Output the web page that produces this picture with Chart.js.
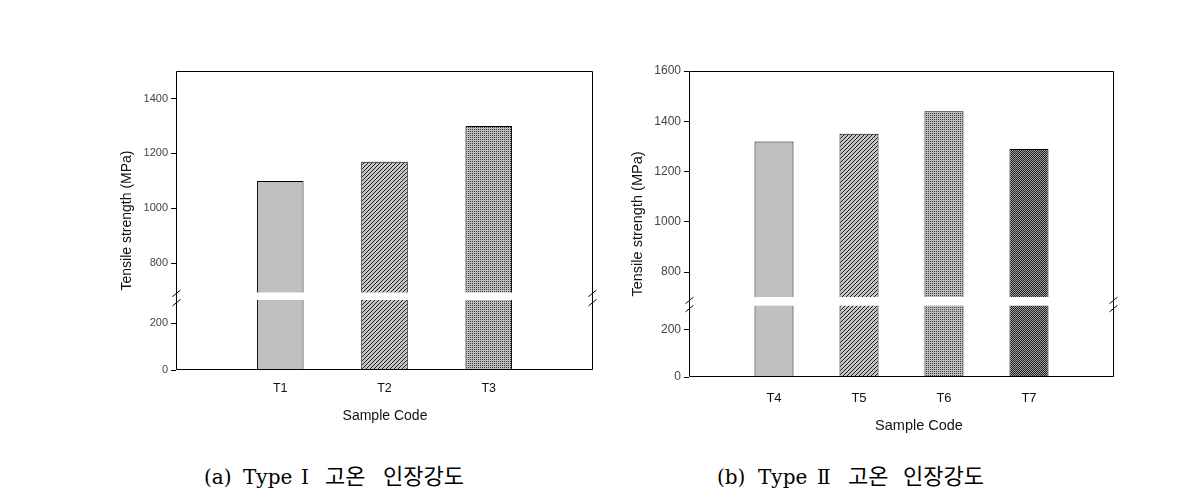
<!DOCTYPE html>
<html>
<head>
<meta charset="utf-8">
<script src="https://cdn.jsdelivr.net/npm/chart.js@4.4.1/dist/chart.umd.min.js"></script>
<style>
body { margin: 0; background: #fff; width: 1179px; height: 504px; position: relative; overflow: hidden; }
canvas { position: absolute; }
.cap { position: absolute; top: 458px; font-family: 'DejaVu Serif', 'Liberation Serif', serif; font-size: 20px; color: #000; white-space: nowrap; }
.cap span { display: inline-block; }
.ko { font-family: 'Noto Sans CJK KR', sans-serif; font-size: 22px; }
</style>
</head>
<body>
<canvas id="chartA" width="510" height="385" style="left:100px;top:55px"></canvas>
<canvas id="chartB" width="520" height="390" style="left:620px;top:55px"></canvas>
<div class="cap" style="left:204px"><span style="width:39px">(a)</span><span style="width:58px">Type</span><span style="width:24px">Ⅰ</span><span class="ko" style="width:58px">고온</span><span class="ko">인장강도</span></div>
<div class="cap" style="left:717px"><span style="width:41px">(b)</span><span style="width:59px">Type</span><span style="width:31px">Ⅱ</span><span class="ko" style="width:55px">고온</span><span class="ko">인장강도</span></div>
<script>
// (a) Type I
var samplesA = ['T1', 'T2', 'T3'];
var strengthA = [1100, 1170, 1300];
var upperTicksA = [800, 1000, 1200, 1400];
var lowerTicksA = [0, 200];

// (b) Type II
var samplesB = ['T4', 'T5', 'T6', 'T7'];
var strengthB = [1320, 1350, 1440, 1290];
var upperTicksB = [800, 1000, 1200, 1400, 1600];
var lowerTicksB = [0, 200];

var yTitle = 'Tensile strength (MPa)';
var xTitle = 'Sample Code';

// little fill patterns like the sigmaplot bars
function makePattern(w, h, bg, fg, pixels) {
    var c = document.createElement('canvas');
    c.width = w; c.height = h;
    var g = c.getContext('2d');
    g.fillStyle = bg;
    g.fillRect(0, 0, w, h);
    g.fillStyle = fg;
    pixels.forEach(function(p) { g.fillRect(p[0], p[1], 1, 1); });
    return g.createPattern(c, 'repeat');
}
var solid = '#c0c0c0';
var hatch = makePattern(4, 4, '#c6c6c6', '#1a1a1a', [[0, 3], [1, 2], [2, 1], [3, 0]]);
var dots = makePattern(2, 2, '#bcbcbc', '#404040', [[0, 0]]);
var dense = makePattern(2, 2, '#a4a4a4', '#1e1e1e', [[0, 0], [1, 1]]);

// draws frame, the white break band, the // marks and the axis titles
var brokenAxis = {
    id: 'brokenAxis',
    afterDatasetsDraw: function(chart, args, o) {
        var ctx = chart.ctx, a = chart.chartArea;
        var yb = chart.scales.yUpper.bottom;
        var l = Math.round(a.left) + 0.5, r = Math.round(a.right) - 0.5;
        var t = Math.round(a.top) + 0.5, b = Math.round(a.bottom) - 0.5;
        ctx.save();
        ctx.fillStyle = '#fff';
        ctx.fillRect(l + 1, yb + o.gapTop, r - l - 2, o.gapBottom - o.gapTop);
        ctx.strokeStyle = '#000';
        ctx.lineWidth = 1;
        ctx.beginPath();
        ctx.moveTo(l, t); ctx.lineTo(r, t); ctx.lineTo(r, b); ctx.lineTo(l, b); ctx.closePath();
        ctx.stroke();
        [l, r].forEach(function(x) {
            [-o.slashSep / 2, o.slashSep / 2].forEach(function(d) {
                var yc = yb + o.slashMid + d;
                ctx.beginPath();
                ctx.moveTo(x - 4, yc + 3.3);
                ctx.lineTo(x + 4, yc - 3.3);
                ctx.stroke();
            });
        });
        ctx.fillStyle = '#111';
        ctx.font = o.titleSize + 'px "Liberation Sans", Arial, sans-serif';
        ctx.textAlign = 'center';
        ctx.textBaseline = 'middle';
        ctx.fillText(xTitle, o.xTitleX, o.xTitleY);
        ctx.translate(o.yTitleX, (a.top + a.bottom) / 2);
        ctx.rotate(-Math.PI / 2);
        ctx.fillText(yTitle, 0, 0);
        ctx.restore();
    }
};

function yAxis(cfg, ticks, min, max, weight) {
    return {
        type: 'linear',
        position: 'left',
        stack: 'y',
        stackWeight: weight,
        min: min,
        max: max,
        afterBuildTicks: function(s) { s.ticks = ticks.map(function(v) { return { value: v }; }); },
        afterFit: function(s) { s.width = cfg.axisWidth; },
        grid: { drawOnChartArea: false, drawTicks: true, tickLength: 5, color: '#000' },
        border: { display: false },
        ticks: {
            padding: 3,
            color: '#444',
            font: { family: '"Liberation Sans", Arial, sans-serif', size: cfg.tickSize },
            callback: function(v) { return String(v); }
        }
    };
}

function buildChart(id, samples, strength, upperTicks, lowerTicks, fills, cfg) {
    var pad = function(arr) { return [null].concat(arr, [null]); };
    var labels = [''].concat(samples, ['']);
    var lowerData = pad(strength.map(function(v) { return Math.min(v, cfg.lowMax); }));
    var upperData = pad(strength.map(function(v) { return [cfg.upMin, v]; }));
    var barStyle = {
        backgroundColor: pad(fills),
        borderColor: '#000',
        borderWidth: 1,
        grouped: false,
        categoryPercentage: 1,
        barPercentage: cfg.barPct
    };
    return new Chart(document.getElementById(id).getContext('2d'), {
        type: 'bar',
        data: {
            labels: labels,
            datasets: [
                Object.assign({ data: upperData, yAxisID: 'yUpper' }, barStyle),
                Object.assign({ data: lowerData, yAxisID: 'yLower' }, barStyle)
            ]
        },
        options: {
            responsive: false,
            animation: false,
            layout: { padding: { left: 0, top: cfg.padTop, right: cfg.padRight, bottom: 0 } },
            plugins: {
                legend: { display: false },
                tooltip: { enabled: false },
                brokenAxis: cfg.brk
            },
            scales: {
                x: {
                    type: 'category',
                    offset: false,
                    afterFit: function(s) { s.height = cfg.xHeight; },
                    grid: { display: false, drawTicks: false },
                    border: { display: false },
                    ticks: {
                        padding: cfg.xPad,
                        color: '#111',
                        maxRotation: 0,
                        autoSkip: false,
                        font: { family: '"Liberation Sans", Arial, sans-serif', size: cfg.xSize }
                    }
                },
                // stacked axes are laid out bottom first
                yLower: yAxis(cfg, lowerTicks, 0, cfg.lowMax, cfg.lowWeight),
                yUpper: yAxis(cfg, upperTicks, cfg.upMin, cfg.upMax, cfg.upWeight)
            }
        },
        plugins: [brokenAxis]
    });
}

buildChart('chartA', samplesA, strengthA, upperTicksA, lowerTicksA, [solid, hatch, dots], {
    lowMax: 320, upMin: 685, upMax: 1500, upWeight: 224, lowWeight: 75,
    barPct: 0.447, axisWidth: 76, padTop: 16, padRight: 17, xHeight: 70,
    xPad: 11, xSize: 12.5, tickSize: 11,
    brk: { gapTop: -2.5, gapBottom: 5, slashMid: 3, slashSep: 9.3, titleSize: 14,
           xTitleX: 285, xTitleY: 361, yTitleX: 27 }
});

buildChart('chartB', samplesB, strengthB, upperTicksB, lowerTicksB, [solid, hatch, dots, dense], {
    lowMax: 320, upMin: 683, upMax: 1600, upWeight: 230.5, lowWeight: 75.5,
    barPct: 0.459, axisWidth: 69, padTop: 16, padRight: 26, xHeight: 68,
    xPad: 14, xSize: 13, tickSize: 12,
    brk: { gapTop: -4.5, gapBottom: 4.2, slashMid: 3, slashSep: 8.2, titleSize: 14.5,
           xTitleX: 299, xTitleY: 371, yTitleX: 18 }
});
</script>
</body>
</html>
